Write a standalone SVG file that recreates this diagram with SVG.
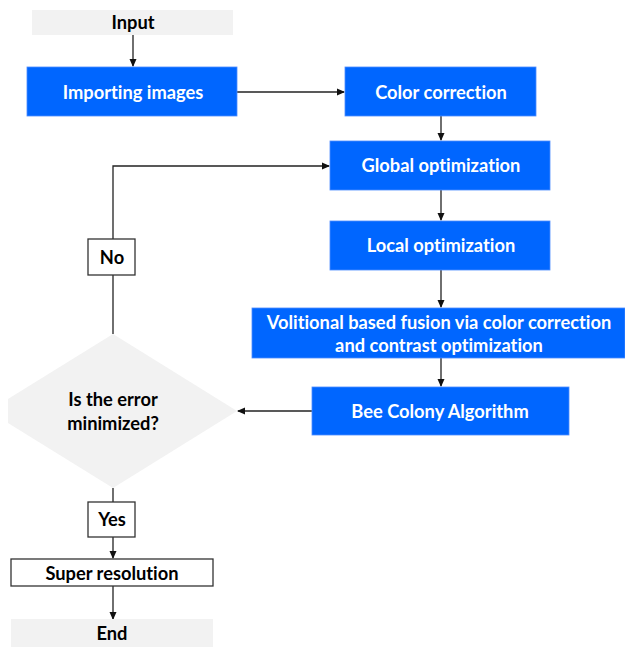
<svg xmlns="http://www.w3.org/2000/svg" width="625" height="647" viewBox="0 0 625 647">
<style>
.t{font-family:Lato,"Liberation Sans",sans-serif;font-weight:bold;font-size:18.3px;text-anchor:middle;dominant-baseline:central;font-variant-ligatures:none;font-feature-settings:"liga" 0,"dlig" 0}
.w{fill:#ffffff}
.k{fill:#000000}
.blue{fill:#0066ff;stroke:#4d8cff;stroke-width:0.8}
.grey{fill:#f2f2f2}
.wb{fill:#ffffff;stroke:#333333;stroke-width:1.3}
.ln{fill:none;stroke:#222222;stroke-width:1.3}
</style>
<defs>
<marker id="ah" markerWidth="8" markerHeight="8" refX="7" refY="4" orient="auto" markerUnits="userSpaceOnUse">
<path d="M0,0.5 L8,4 L0,7.5 Z" fill="#111111"/>
</marker>
</defs>
<rect width="625" height="647" fill="#ffffff"/>
<g id="connectors">
<path class="ln" d="M133,35 V66" marker-end="url(#ah)"/>
<path class="ln" d="M237,92 H344" marker-end="url(#ah)"/>
<path class="ln" d="M441,116 V140" marker-end="url(#ah)"/>
<path class="ln" d="M441,190 V220" marker-end="url(#ah)"/>
<path class="ln" d="M441,270 V307" marker-end="url(#ah)"/>
<path class="ln" d="M441,358 V386" marker-end="url(#ah)"/>
<path class="ln" d="M312,411 H238" marker-end="url(#ah)"/>
<path class="ln" d="M113,334 V275"/>
<path class="ln" d="M113,239 V166 H329" marker-end="url(#ah)"/>
<path class="ln" d="M113,488 V502"/>
<path class="ln" d="M113,537 V558" marker-end="url(#ah)"/>
<path class="ln" d="M113,586 V619" marker-end="url(#ah)"/>
</g>
<g id="input">
<rect class="grey" x="32" y="10" width="201" height="25"/>
<text class="t k" x="133" y="22">Input</text>
</g>
<g id="importing">
<rect class="blue" x="27" y="67" width="210" height="49"/>
<text class="t w" x="133" y="92">Importing images</text>
</g>
<g id="color">
<rect class="blue" x="345" y="67" width="191" height="49"/>
<text class="t w" x="441" y="92">Color correction</text>
</g>
<g id="global">
<rect class="blue" x="330" y="141" width="220" height="49"/>
<text class="t w" x="441" y="165">Global optimization</text>
</g>
<g id="local">
<rect class="blue" x="330" y="221" width="220" height="49"/>
<text class="t w" x="441" y="245">Local optimization</text>
</g>
<g id="fusion">
<rect class="blue" x="252" y="308" width="373" height="50"/>
<text class="t w" x="439" y="322">Volitional based fusion via color correction</text>
<text class="t w" x="439" y="345">and contrast optimization</text>
</g>
<g id="bee">
<rect class="blue" x="312" y="387" width="257" height="48"/>
<text class="t w" x="440" y="411">Bee Colony Algorithm</text>
</g>
<g id="decision">
<polygon class="grey" points="113,334 237,411 113,488 8,423 8,399"/>
<text class="t k" x="113" y="399">Is the error</text>
<text class="t k" x="113" y="423">minimized?</text>
</g>
<g id="no">
<rect class="wb" x="88" y="239" width="47" height="36"/>
<text class="t k" x="112" y="257">No</text>
</g>
<g id="yes">
<rect class="wb" x="88" y="502" width="47" height="35"/>
<text class="t k" x="112" y="519">Yes</text>
</g>
<g id="super">
<rect class="wb" x="11" y="559" width="202" height="27"/>
<text class="t k" x="112" y="573">Super resolution</text>
</g>
<g id="end">
<rect class="grey" x="11" y="619" width="202" height="28"/>
<text class="t k" x="112" y="633">End</text>
</g>
</svg>
